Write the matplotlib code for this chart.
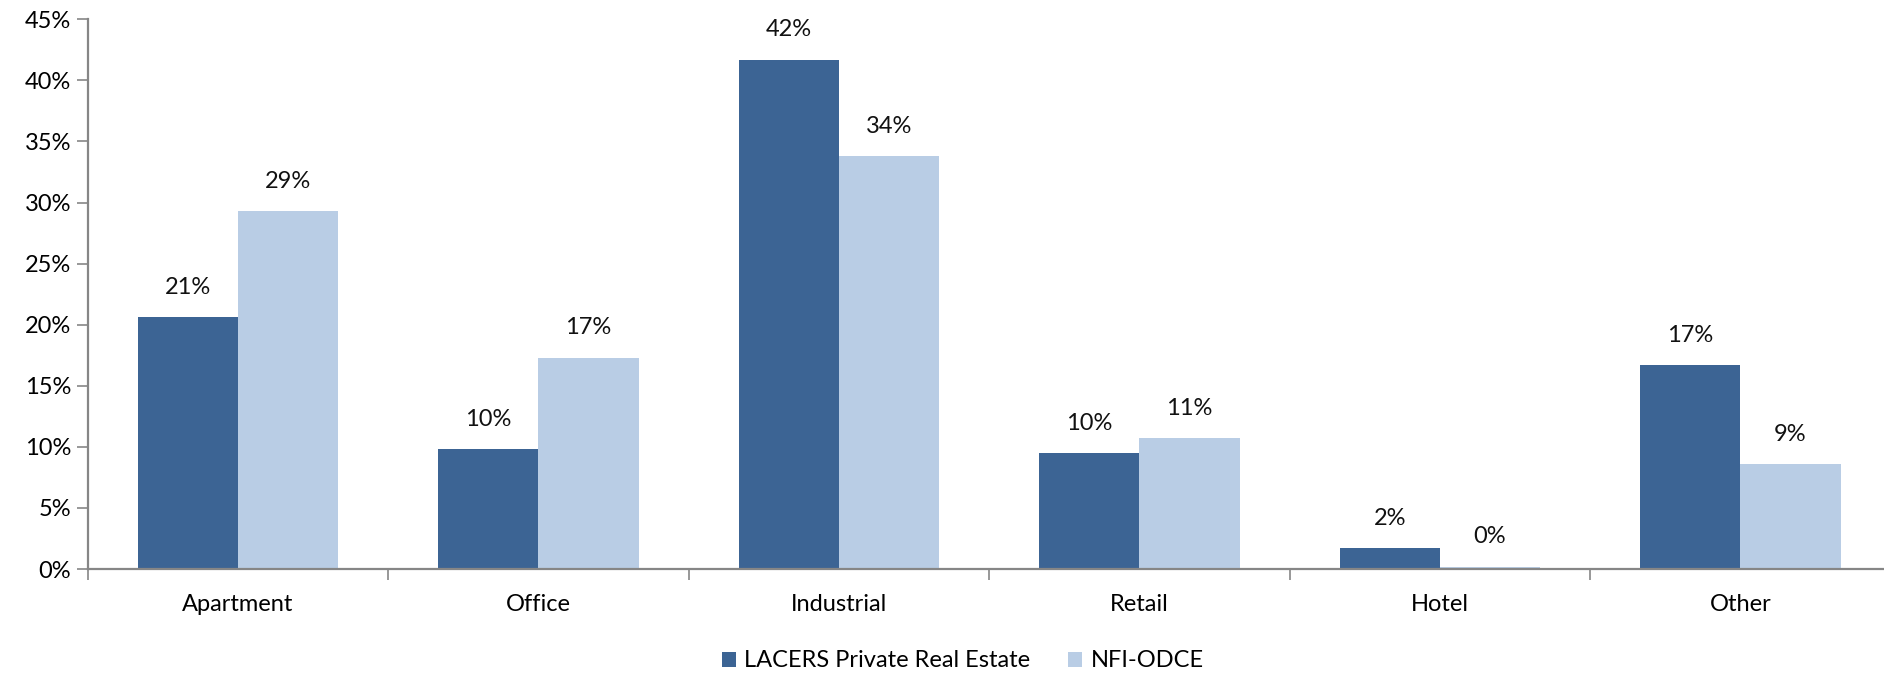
import numpy as np
import matplotlib
matplotlib.use('Agg')
import matplotlib.pyplot as plt
from matplotlib.ticker import FixedLocator, PercentFormatter

plt.rcParams['font.family'] = ['Lato', 'DejaVu Sans']

# allocation by property type (%)
categorias = ['Apartment', 'Office', 'Industrial', 'Retail', 'Hotel', 'Other']
lacers = [20.6, 9.8, 41.7, 9.5, 1.7, 16.7]
nfi_odce = [29.3, 17.3, 33.8, 10.7, 0.2, 8.6]
series = ['LACERS Private Real Estate', 'NFI-ODCE']

cor_escura = '#3C6494'
cor_clara = '#B9CDE5'
cor_eixo = '#868686'

fig = plt.figure(figsize=(18.84, 6.73), dpi=100)
ax = fig.add_axes([0.0465, 0.1545, 0.957, 0.8168])

x = np.arange(len(categorias))
largura = 1 / 3
b1 = ax.bar(x - largura / 2, lacers, largura, color=cor_escura, label=series[0])
b2 = ax.bar(x + largura / 2, nfi_odce, largura, color=cor_clara, label=series[1])

for barras, valores in [(b1, lacers), (b2, nfi_odce)]:
    for b, v in zip(barras, valores):
        ax.annotate(f'{v:.0f}%', (b.get_x() + b.get_width() / 2, v),
                    xytext=(0, 14), textcoords='offset points',
                    ha='center', va='bottom', fontsize=17, color='#111111')

ax.set_xlim(-0.5, len(categorias) - 0.5)
ax.set_ylim(0, 45)
ax.set_yticks(np.arange(0, 46, 5))
ax.yaxis.set_major_formatter(PercentFormatter(decimals=0))

ax.set_xticks(x)
ax.set_xticklabels(categorias)
ax.xaxis.set_minor_locator(FixedLocator(np.arange(-0.5, len(categorias), 1)))
ax.tick_params(axis='x', which='major', length=0, pad=18, labelsize=17)
ax.tick_params(axis='x', which='minor', length=8, width=1.2, color=cor_eixo)
ax.tick_params(axis='y', length=8, width=1.2, color=cor_eixo, labelsize=17, pad=4)

for lado in ['top', 'right']:
    ax.spines[lado].set_visible(False)
for lado in ['left', 'bottom']:
    ax.spines[lado].set_color(cor_eixo)
    ax.spines[lado].set_linewidth(1.6)

fig.legend(handles=[b1, b2], labels=series, loc='center', ncol=2,
           bbox_to_anchor=(0.511, 0.018), frameon=False, fontsize=17,
           handlelength=0.6, handleheight=0.6, handletextpad=0.35,
           columnspacing=1.6)

plt.savefig('out.png', dpi=100)
